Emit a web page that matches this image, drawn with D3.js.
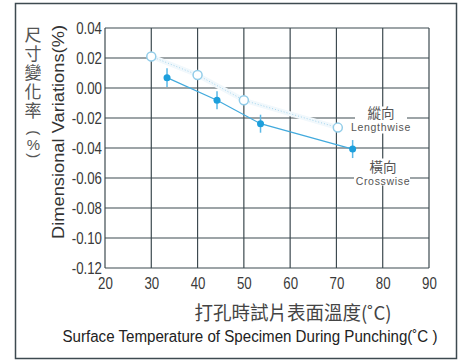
<!DOCTYPE html>
<html>
<head>
<meta charset="utf-8">
<script src="https://cdn.jsdelivr.net/npm/d3@7"></script>
<style>
  body { margin: 0; background: #fff; }
  svg { display: block; }
  .tick text { font-family: "Liberation Sans", Arial, sans-serif; font-size: 16px; fill: #3a3a3a; }
</style>
</head>
<body>
<svg id="chart" width="463" height="363"></svg>
<script>
// x ticks (temperature) and y ticks (variation %)
const xTicks = [20, 30, 40, 50, 60, 70, 80, 90];
const yTicks = [0.04, 0.02, 0.00, -0.02, -0.04, -0.06, -0.08, -0.10, -0.12];

// lengthwise (open circles)
const lengthTemp = [30, 40, 50, 70.3];
const lengthVar = [0.021, 0.0087, -0.0082, -0.0264];

// crosswise (filled circles) with error bars
const crossTemp = [33.4, 44.2, 53.6, 73.5];
const crossVar = [0.0069, -0.0082, -0.0238, -0.0407];
const crossErr = [0.0063, 0.006, 0.006, 0.006];

const svg = d3.select("#chart");
const gridColor = "#3d4a50";
const squeeze = 0.83; // tick font in the picture is a narrow sans

// outer frame
svg.append("rect").attr("x", 15.5).attr("y", 3.5).attr("width", 441).attr("height", 355)
    .attr("fill", "#fff").attr("stroke", gridColor).attr("stroke-width", 1.5);

const x = d3.scaleLinear().domain([20, 90]).range([105, 429]);
const y = d3.scaleLinear().domain([0.04, -0.12]).range([28, 268]);

// grid
const g = svg.append("g");
g.selectAll(".vl").data(xTicks).enter().append("line")
    .attr("x1", d => x(d)).attr("x2", d => x(d)).attr("y1", y(0.04)).attr("y2", y(-0.12))
    .attr("stroke", gridColor).attr("stroke-width", 1.2);
g.selectAll(".hl").data(yTicks).enter().append("line")
    .attr("x1", x(20)).attr("x2", x(90)).attr("y1", d => y(d)).attr("y2", d => y(d))
    .attr("stroke", gridColor).attr("stroke-width", 1.2);

// axes (labels only), plain hyphen for negatives like the picture
const yAxis = d3.axisLeft(y).tickValues(yTicks).tickFormat(d => d.toFixed(2)).tickSize(0).tickPadding(3);
svg.append("g").attr("transform", "translate(" + x(20) + ",0)").call(yAxis)
    .call(s => s.select(".domain").remove())
    .call(s => s.selectAll("text").attr("x", -3 / squeeze).attr("transform", "scale(" + squeeze + ",1)"));
const xAxis = d3.axisBottom(x).tickValues(xTicks).tickSize(0).tickPadding(10);
svg.append("g").attr("transform", "translate(0," + y(-0.12) + ")").call(xAxis)
    .call(s => s.select(".domain").remove())
    .call(s => s.selectAll("text").attr("transform", "scale(" + squeeze + ",1)"));

// label boxes
function labelBox(cx, cy, w, h) {
    svg.append("rect").attr("x", cx - w / 2).attr("y", cy - h / 2).attr("width", w).attr("height", h).attr("fill", "#fff");
}
labelBox(381, 120, 52, 27);
labelBox(382, 172, 56, 27);

// lengthwise faint band + dotted line
const line = d3.line().x(d => x(d[0])).y(d => y(d[1]));
const lengthPts = lengthTemp.map((t, i) => [t, lengthVar[i]]);
const crossPts = crossTemp.map((t, i) => [t, crossVar[i]]);
svg.append("path").attr("d", line(lengthPts)).attr("fill", "none")
    .attr("stroke", "#f1f8fc").attr("stroke-width", 5);
svg.append("path").attr("d", line(lengthPts)).attr("fill", "none")
    .attr("stroke", "#a6d6ee").attr("stroke-width", 1).attr("stroke-dasharray", "1,2");

// crosswise line
svg.append("path").attr("d", line(crossPts)).attr("fill", "none")
    .attr("stroke", "#42aadd").attr("stroke-width", 1.2);

// error bars
svg.selectAll(".err").data(crossPts).enter().append("line")
    .attr("x1", d => x(d[0])).attr("x2", d => x(d[0]))
    .attr("y1", (d, i) => y(d[1] + crossErr[i])).attr("y2", (d, i) => y(d[1] - crossErr[i]))
    .attr("stroke", "#5bb8e6").attr("stroke-width", 1.5);

svg.selectAll(".lp").data(lengthPts).enter().append("circle")
    .attr("cx", d => x(d[0])).attr("cy", d => y(d[1])).attr("r", 4.5)
    .attr("fill", "#fff").attr("stroke", "#93cde9").attr("stroke-width", 1.5);
svg.selectAll(".cp").data(crossPts).enter().append("circle")
    .attr("cx", d => x(d[0])).attr("cy", d => y(d[1])).attr("r", 3.5)
    .attr("fill", "#1d9fdc");

// series labels
const cjk = "'Noto Sans CJK TC', 'Noto Sans CJK SC', sans-serif";
const lat = "'Liberation Sans', Arial, sans-serif";
function seriesLabel(cx, base, zh, en) {
    svg.append("text").attr("x", cx).attr("y", base).attr("text-anchor", "middle")
        .attr("font-family", cjk).attr("font-size", 13.5).attr("fill", "#555").text(zh);
    svg.append("text").attr("x", cx).attr("y", base + 13.5).attr("text-anchor", "middle")
        .attr("font-family", lat).attr("font-size", 10.5).attr("letter-spacing", 0.7)
        .attr("fill", "#555").text(en);
}
seriesLabel(381, 117.5, "縱向", "Lengthwise");
seriesLabel(383, 171.5, "橫向", "Crosswise");

// y title, chinese written vertically
svg.append("text").attr("x", 33).attr("y", 26)
    .style("writing-mode", "vertical-rl")
    .attr("font-family", cjk).attr("font-size", 17).attr("letter-spacing", 2)
    .attr("fill", "#555").text("尺寸變化率");
// "(%)" below it: parens turned sideways, % upright
svg.append("text")
    .attr("x", "28.5 26.8 28.5").attr("y", "130.3 150 153.3").attr("rotate", "90 0 90")
    .attr("font-family", lat).attr("font-size", 15).attr("fill", "#555").text("(%)");

svg.append("text").attr("transform", "translate(64,132) rotate(-90)").attr("text-anchor", "middle")
    .attr("font-family", lat).attr("font-size", 16).attr("fill", "#333")
    .attr("textLength", 214).attr("lengthAdjust", "spacingAndGlyphs")
    .text("Dimensional Variations(%)");

// x titles
svg.append("text").attr("x", 293).attr("y", 320).attr("text-anchor", "middle")
    .attr("font-family", cjk).attr("font-size", 19).attr("fill", "#444")
    .attr("textLength", 197).attr("lengthAdjust", "spacingAndGlyphs")
    .text("打孔時試片表面溫度(˚C)");
svg.append("text").attr("x", 250).attr("y", 342).attr("text-anchor", "middle")
    .attr("font-family", lat).attr("font-size", 16).attr("fill", "#222")
    .attr("textLength", 375).attr("lengthAdjust", "spacingAndGlyphs")
    .text("Surface Temperature of Specimen During Punching(˚C )");
</script>
</body>
</html>
